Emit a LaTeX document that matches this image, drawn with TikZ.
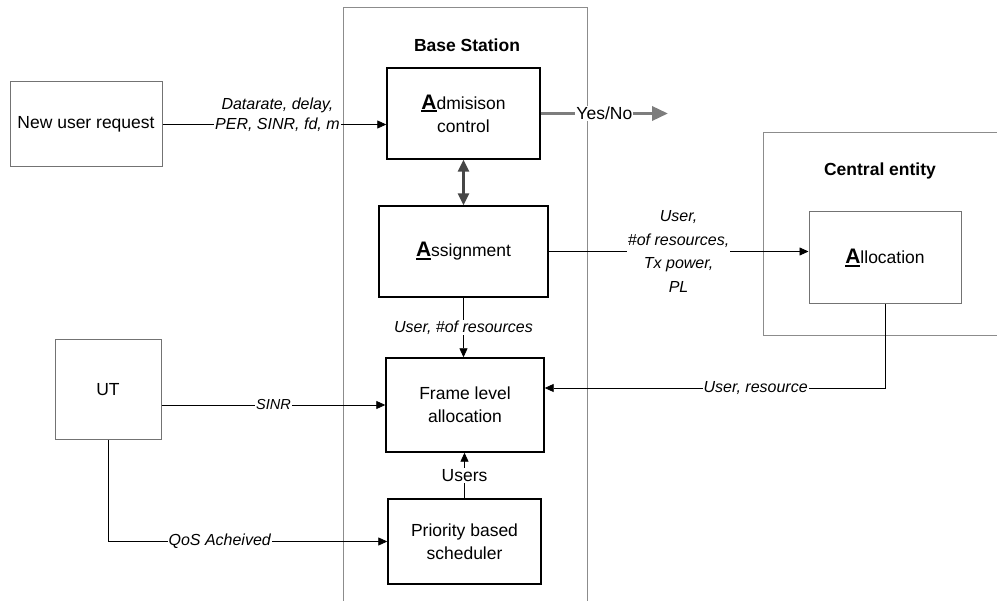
\documentclass[tikz,border=0pt]{standalone}
\usepackage{fontspec}
\setmainfont{Liberation Sans}
\usetikzlibrary{positioning}
\usetikzlibrary{arrows.meta}

\definecolor{boxgray}{RGB}{115,115,115}
\definecolor{framegray}{RGB}{140,140,140}
\definecolor{yngray}{RGB}{125,125,125}
\definecolor{dblgray}{RGB}{70,70,70}

\newcommand{\leadA}[1]{\setbox0\hbox{\fontsize{21}{21}\selectfont\bfseries #1}\rlap{\rule[-2.8pt]{\wd0}{1.8pt}}\box0}

\tikzset{
  blk/.style={draw=black, line width=1.4pt, inner sep=0pt, align=center, font=\fontsize{17.5}{23}\selectfont},
  gbox/.style={draw=boxgray, line width=1pt, inner sep=0pt, align=center, font=\fontsize{17.5}{23}\selectfont},
  ttl/.style={font=\fontsize{17.5}{21}\selectfont\bfseries},
  lbl/.style={fill=white, inner sep=1pt, align=center, font=\fontsize{16}{20}\selectfont\itshape},
  arr/.style={-{Triangle[length=9pt,width=8pt]}, line width=0.8pt},
}

\begin{document}
\begin{tikzpicture}[x=1pt,y=-1pt]
    \useasboundingbox (0,0) rectangle (997,601);

    % containers
    \path[draw=framegray, line width=1pt] (343,601) -- (343,8) -- (587,8) -- (587,601);
    \path[draw=framegray, line width=1pt] (997,133) -- (763,133) -- (763,336) -- (997,336);
    \node[ttl] (bstitle) at (467,45) {Base Station};
    \node[ttl] (cetitle) at (880,171) {Central entity};

    % blocks
    \node[gbox, minimum width=152, minimum height=85] (req) at (86,124.5) {New user request};
    \node[blk, minimum width=153, minimum height=91] (adm) at (463.5,113.5) {\leadA{A}dmisison\\control};
    \node[blk, minimum width=169, minimum height=91] (asg) at (463.5,251.5) {\leadA{A}ssignment};
    \node[gbox, minimum width=152, minimum height=92] (alloc) at (885,258) {\leadA{A}llocation};
    \node[blk, minimum width=158, minimum height=94] (frame) at (465,405) {Frame level\\allocation};
    \node[gbox, minimum width=106, minimum height=100] (ut) at (108,390) {UT};
    \node[blk, minimum width=153, minimum height=85] (sched) at (464.5,541.5) {Priority based\\scheduler};
    \coordinate (yn) at (668,113.5);

    % connectors
    \path[draw, arr] (req.east) -- (req.east -| adm.west)
        node[lbl, midway, yshift=10pt, xshift=3pt] {Datarate, delay,\\PER, SINR, fd, m};
    \path[draw=yngray, line width=3.5pt, -{Triangle[length=16pt,width=14pt]}] (adm.east) -- (yn)
        node[midway, fill=white, inner sep=1pt, font=\fontsize{17.5}{21}\selectfont] {Yes/No};
    \path[draw=dblgray, line width=2.5pt, {Triangle[length=12pt,width=11pt]}-{Triangle[length=12pt,width=11pt]}]
        (adm.south) -- (adm.south |- asg.north);
    \path[draw, arr] (asg.east) -- (asg.east -| alloc.west)
        node[lbl, midway, font=\fontsize{16}{23.5}\selectfont\itshape] {User,\\\#of resources,\\Tx power,\\PL};
    \path[draw, arr] (asg.south) -- (asg.south |- frame.north)
        node[lbl, midway] {User, \#of resources};
    \path[draw, arr] (alloc.south) |- ([yshift=17pt]frame.east)
        node[lbl, pos=0.69] {User, resource};
    \path[draw, arr] (ut.east |- frame.west) -- (frame.west)
        node[lbl, midway, font=\fontsize{14.5}{18}\selectfont\itshape] {SINR};
    \path[draw, arr] (sched.north) -- (sched.north |- frame.south)
        node[midway, fill=white, inner sep=1pt, font=\fontsize{17.5}{21}\selectfont] {Users};
    \path[draw, arr] (ut.south) |- (sched.west)
        node[lbl, pos=0.7] {QoS Acheived};
\end{tikzpicture}
\end{document}
